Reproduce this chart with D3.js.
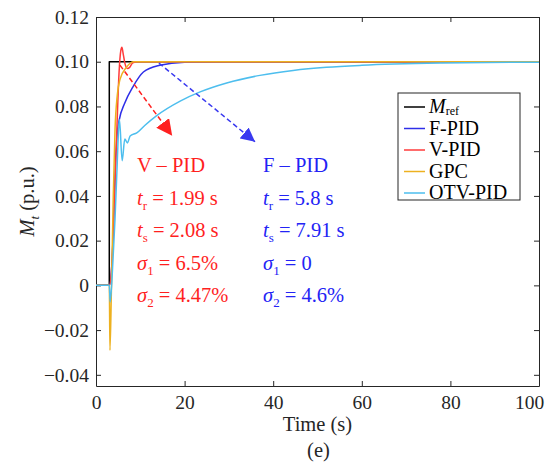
<!DOCTYPE html>
<html>
<head>
<meta charset="utf-8">
<script src="https://cdn.jsdelivr.net/npm/d3@7"></script>
<style>
  body { margin: 0; background: #fff; }
  svg text { font-family: "Liberation Serif", "Times New Roman", serif; }
</style>
</head>
<body>
<div id="container"></div>
<script>
// series data (time in s, torque in p.u.)
const tRef = [0, 3, 3, 100];
const mRef = [0, 0, 0.1, 0.1];

const tF = [0, 3, 3.6, 4.0, 4.4, 4.8, 5.2, 6.5, 8.4, 10.7, 14.4, 20, 30, 100];
const fPid = [0, 0, 0.01, 0.03, 0.055, 0.068, 0.0735, 0.0815, 0.089, 0.0954, 0.0984, 0.0998, 0.1, 0.1];

const tV = [0, 3, 3.6, 4.2, 4.8, 5.2, 5.6, 5.85, 6.1, 6.5, 7.1, 7.6, 8.3, 9.5, 100];
const vPid = [0, 0, 0.01, 0.04, 0.075, 0.095, 0.105, 0.1065, 0.104, 0.0995, 0.097, 0.0975, 0.0995, 0.1, 0.1];

const tG = [0, 3, 3.15, 3.5, 3.9, 4.3, 4.8, 5.4, 6.9, 8.5, 100];
const gpc = [0, 0, -0.029, 0.0, 0.04, 0.07, 0.085, 0.092, 0.0976, 0.1, 0.1];

const tO = [0, 3, 3.2, 3.8, 4.3, 4.8, 5.1, 5.3, 5.9, 6.5, 7.1, 7.7, 9.2, 11, 13.7, 19, 23.5, 29.5, 37, 44.5, 52, 60, 78, 100];
const otvPid = [0, 0, -0.0074, 0.01, 0.03, 0.055, 0.07, 0.074, 0.0557, 0.0654, 0.0637, 0.0668, 0.0682, 0.0715, 0.0759, 0.0824, 0.0865, 0.0905, 0.0939, 0.0961, 0.0975, 0.0984, 0.0994, 0.0998];

const seriesNames = ["M_ref", "F-PID", "V-PID", "GPC", "OTV-PID"];
const seriesColors = ["#000000", "#2e2ee8", "#ff3b3b", "#edb120", "#4dbeee"];

const xTicks = [0, 20, 40, 60, 80, 100];
const yTicks = [-0.04, -0.02, 0, 0.02, 0.04, 0.06, 0.08, 0.10, 0.12];
const yTickLabels = ["\u22120.04", "\u22120.02", "0", "0.02", "0.04", "0.06", "0.08", "0.10", "0.12"];

// arrows: [t0, v0, t1, v1]
const redArrow = [5.4, 0.0985, 17.2, 0.0669];
const blueArrow = [14.2, 0.0994, 35.9, 0.0642];

const vText = [["V \u2013 PID"], ["t", "r", " = 1.99 s"], ["t", "s", " = 2.08 s"], ["\u03c3", "1", " = 6.5%"], ["\u03c3", "2", " = 4.47%"]];
const fText = [["F \u2013 PID"], ["t", "r", " = 5.8 s"], ["t", "s", " = 7.91 s"], ["\u03c3", "1", " = 0"], ["\u03c3", "2", " = 4.6%"]];

const width = 550, height = 465;
const padL = 96, padR = 539, padT = 17, padB = 386;
const serif = '"Liberation Serif", "Times New Roman", serif';

const svg = d3.select('#container').append('svg')
  .attr('width', width)
  .attr('height', height);

const x = d3.scaleLinear().domain([0, 100]).range([padL, padR]);
const y = d3.scaleLinear().domain([-0.045, 0.12]).range([padB, padT]);

const axisColor = '#262626';

// axes, ticks pointing inward on all four sides
const xAxis = d3.axisBottom(x).tickValues(xTicks).tickSizeInner(-5).tickSizeOuter(0).tickPadding(9);
const yAxis = d3.axisLeft(y).tickValues(yTicks).tickSizeInner(-5).tickSizeOuter(0).tickPadding(7)
  .tickFormat((d, i) => yTickLabels[i]);

const gx = svg.append('g').attr('transform', `translate(0,${padB})`).call(xAxis);
const gy = svg.append('g').attr('transform', `translate(${padL},0)`).call(yAxis);
const gx2 = svg.append('g').attr('transform', `translate(0,${padT})`)
  .call(d3.axisTop(x).tickValues(xTicks).tickSizeInner(-5).tickSizeOuter(0).tickFormat(''));
const gy2 = svg.append('g').attr('transform', `translate(${padR},0)`)
  .call(d3.axisRight(y).tickValues(yTicks).tickSizeInner(-5).tickSizeOuter(0).tickFormat(''));

[gx, gy, gx2, gy2].forEach(g => {
  g.attr('font-family', serif);
  g.select('.domain').attr('stroke', axisColor).attr('stroke-width', 1);
  g.selectAll('.tick line').attr('stroke', axisColor);
  g.selectAll('.tick text')
    .attr('fill', axisColor)
    .style('font-family', serif)
    .style('font-size', '19.5px');
});
// last x label sits inside the frame, as in the source figure
gx.selectAll('.tick text').filter(d => d === 100).attr('dx', -10);

// curves
const pts = (ts, vs) => ts.map((t, i) => ({ t, v: vs[i] }));
const series = [pts(tRef, mRef), pts(tF, fPid), pts(tV, vPid), pts(tG, gpc), pts(tO, otvPid)];

const lineStep = d3.line().x(d => x(d.t)).y(d => y(d.v));
const lineSmooth = d3.line().x(d => x(d.t)).y(d => y(d.v)).curve(d3.curveMonotoneX);

series.forEach((s, i) => {
  svg.append('path')
    .datum(s)
    .attr('fill', 'none')
    .attr('stroke', seriesColors[i])
    .attr('stroke-width', 1.5)
    .attr('stroke-linejoin', 'round')
    .attr('d', i === 0 ? lineStep : lineSmooth);
});

// dashed arrows
const defs = svg.append('defs');
function arrow(a, color, id, size) {
  defs.append('marker')
    .attr('id', id)
    .attr('viewBox', '0 0 10 10')
    .attr('refX', 10).attr('refY', 5)
    .attr('markerWidth', size).attr('markerHeight', size)
    .attr('markerUnits', 'userSpaceOnUse')
    .attr('orient', 'auto')
    .append('path')
    .attr('d', 'M0,0 L10,5 L0,10 Z')
    .attr('fill', color);
  svg.append('line')
    .attr('x1', x(a[0])).attr('y1', y(a[1]))
    .attr('x2', x(a[2])).attr('y2', y(a[3]))
    .attr('stroke', color)
    .attr('stroke-width', 1.5)
    .attr('stroke-dasharray', '5,3')
    .attr('marker-end', `url(#${id})`);
}
arrow(redArrow, '#ff2020', 'ar', 16);
arrow(blueArrow, '#3a3af0', 'ab', 14);

// annotation text
function block(lines, x0, color) {
  lines.forEach((parts, i) => {
    const t = svg.append('text')
      .attr('x', x0)
      .attr('y', 172 + i * 32.5)
      .attr('fill', color)
      .style('font-size', '20.5px');
    if (parts.length === 1) {
      t.text(parts[0]);
    } else {
      t.append('tspan').attr('font-style', 'italic').text(parts[0]);
      t.append('tspan').attr('dy', 5).style('font-size', '13px').text(parts[1]);
      t.append('tspan').attr('dy', -5).text(parts[2]);
    }
  });
}
block(vText, 137, '#ff1f1f');
block(fText, 263, '#2323f5');

// legend
const lg = svg.append('g');
lg.append('rect')
  .attr('x', 398).attr('y', 93)
  .attr('width', 122).attr('height', 107)
  .attr('fill', '#fff')
  .attr('stroke', axisColor)
  .attr('stroke-width', 1);
seriesNames.forEach((name, i) => {
  const yy = 107 + i * 21.5;
  lg.append('line')
    .attr('x1', 404).attr('x2', 425)
    .attr('y1', yy).attr('y2', yy)
    .attr('stroke', seriesColors[i])
    .attr('stroke-width', 1.5);
  const t = lg.append('text')
    .attr('x', 429).attr('y', yy + 6)
    .attr('fill', '#000')
    .style('font-size', '20px');
  if (name === 'M_ref') {
    t.append('tspan').attr('font-style', 'italic').text('M');
    t.append('tspan').attr('dy', 2).style('font-size', '12px').text('ref');
  } else {
    t.text(name);
  }
});

// axis labels
svg.append('text')
  .attr('x', (padL + padR) / 2).attr('y', 431)
  .attr('text-anchor', 'middle')
  .attr('fill', axisColor)
  .style('font-size', '20.5px')
  .text('Time (s)');

svg.append('text')
  .attr('x', (padL + padR) / 2 + 1).attr('y', 457)
  .attr('text-anchor', 'middle')
  .attr('fill', axisColor)
  .style('font-size', '20.5px')
  .text('(e)');

const yl = svg.append('text')
  .attr('transform', `translate(34,${(padT + padB) / 2}) rotate(-90)`)
  .attr('text-anchor', 'middle')
  .attr('fill', axisColor)
  .style('font-size', '20.5px');
yl.append('tspan').attr('font-style', 'italic').text('M');
yl.append('tspan').attr('dy', 5).attr('font-style', 'italic').style('font-size', '13px').text('t');
yl.append('tspan').attr('dy', -5).text(' (p.u.)');
</script>
</body>
</html>
